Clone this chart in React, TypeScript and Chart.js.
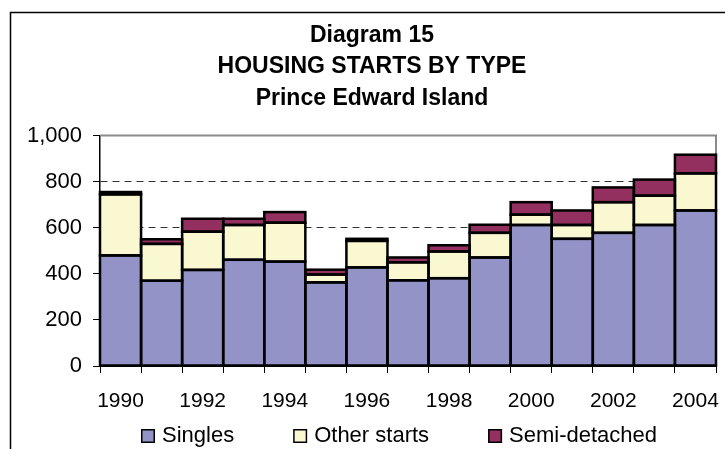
import React, { useEffect, useRef } from "react";
import { Chart, registerables } from "chart.js";

Chart.register(...registerables);

const years = ["1990","1991","1992","1993","1994","1995","1996","1997","1998","1999","2000","2001","2002","2003","2004"];
const singles = [480, 370, 417, 461, 453, 363, 428, 372, 381, 471, 612, 552, 578, 612, 675];
const otherStarts = [265, 160, 166, 151, 169, 34, 115, 78, 116, 107, 45, 60, 133, 127, 161];
const semiDetached = [10, 20, 56, 27, 46, 21, 9, 21, 27, 35, 54, 63, 64, 70, 81];
const titleLines = ["Diagram 15", "HOUSING STARTS BY TYPE", "Prince Edward Island"];
const seriesNames = ["Singles", "Other starts", "Semi-detached"];
const seriesColors = ["#9393C7", "#FAF8D0", "#933060"];

const FONT = "'Liberation Sans', Arial, sans-serif";

const framePlugin = {
  id: "frame",
  beforeDraw(chart: any) {
    const { ctx, width, height } = chart;
    ctx.save();
    ctx.fillStyle = "#fff";
    ctx.fillRect(0, 0, width, height);
    ctx.strokeStyle = "#000";
    ctx.lineWidth = 1.5;
    ctx.beginPath();
    ctx.moveTo(10.5, height + 2);
    ctx.lineTo(10.5, 12.5);
    ctx.lineTo(width + 2, 12.5);
    ctx.stroke();
    ctx.restore();
  },
  beforeDatasetsDraw(chart: any) {
    const { ctx, chartArea: a } = chart;
    ctx.save();
    ctx.strokeStyle = "#8a8a8a";
    ctx.lineWidth = 2;
    ctx.beginPath();
    ctx.moveTo(a.left, a.top);
    ctx.lineTo(a.right, a.top);
    ctx.lineTo(a.right, a.bottom);
    ctx.stroke();
    ctx.restore();
  },
  afterDatasetsDraw(chart: any) {
    const { ctx } = chart;
    ctx.save();
    ctx.strokeStyle = "#000";
    ctx.lineWidth = 2.5;
    ctx.lineJoin = "miter";
    chart.data.datasets.forEach((_ds: any, di: number) => {
      const meta = chart.getDatasetMeta(di);
      meta.data.forEach((el: any) => {
        const p = el.getProps(["x", "y", "base", "width"], true);
        const top = Math.min(p.y, p.base);
        const h = Math.abs(p.base - p.y);
        ctx.strokeRect(p.x - p.width / 2, top, p.width, h);
      });
    });
    ctx.restore();
  },
};

const legendPlugin = {
  id: "customLegend",
  afterDraw(chart: any) {
    const { ctx } = chart;
    ctx.save();
    ctx.font = `22px ${FONT}`;
    ctx.textBaseline = "alphabetic";
    ctx.textAlign = "left";
    const box = 14;
    const gapText = 7;
    const gapItem = 59;
    let x = 141;
    const boxTop = 429;
    const baseline = 441.5;
    chart.data.datasets.forEach((ds: any) => {
      ctx.fillStyle = ds.backgroundColor;
      ctx.fillRect(x, boxTop, box, box);
      ctx.strokeStyle = "#000";
      ctx.lineWidth = 1.5;
      ctx.strokeRect(x + 0.75, boxTop + 0.75, box - 1.5, box - 1.5);
      ctx.fillStyle = "#000";
      const tx = x + box + gapText;
      ctx.fillText(ds.label, tx, baseline);
      x = tx + ctx.measureText(ds.label).width + gapItem;
    });
    ctx.restore();
  },
};

export default function App() {
  const ref = useRef<HTMLCanvasElement>(null);
  useEffect(() => {
    if (!ref.current) return;
    const seriesData = [singles, otherStarts, semiDetached];
    const chart = new Chart(ref.current, {
      type: "bar",
      data: {
        labels: years,
        datasets: seriesNames.map((name, i) => ({
          label: name,
          data: seriesData[i],
          backgroundColor: seriesColors[i],
          borderColor: "#000",
          borderWidth: 0,
          inflateAmount: 0,
          barPercentage: 1,
          categoryPercentage: 1,
        })),
      },
      options: {
        responsive: false,
        animation: false,
        layout: { padding: { left: 28, right: 9, top: 0, bottom: 40 } },
        plugins: {
          legend: { display: false },
          tooltip: { enabled: false },
          title: {
            display: true,
            text: titleLines,
            color: "#000",
            font: { family: FONT, size: 23, weight: "bold", lineHeight: 1.378 },
            padding: { top: 19.5, bottom: 21 },
          },
        },
        scales: {
          x: {
            stacked: true,
            offset: true,
            afterFit: (axis: any) => {
              axis.height = 43;
              axis.paddingLeft = 0;
              axis.paddingRight = 0;
            },
            grid: {
              offset: true,
              drawOnChartArea: false,
              drawTicks: true,
              tickLength: 7,
              tickColor: "#000",
              tickWidth: 1,
            },
            border: { display: true, color: "#000", width: 2 },
            ticks: {
              autoSkip: false,
              maxRotation: 0,
              minRotation: 0,
              padding: 16,
              color: "#000",
              font: { family: FONT, size: 21 },
              callback: function (this: any, _v: any, index: number) {
                return index % 2 === 0 ? years[index] : "";
              },
            },
          },
          y: {
            stacked: true,
            min: 0,
            max: 1000,
            afterFit: (axis: any) => { axis.width = 72; },
            grid: {
              drawTicks: true,
              tickLength: 7,
              tickColor: "#000",
              tickWidth: 1,
              lineWidth: 1,
              color: (c: any) => {
                const v = c.tick ? c.tick.value : -1;
                return v === 0 || v === 1000 ? "rgba(0,0,0,0)" : "#333";
              },
            },
            border: { display: true, color: "#000", width: 1.5, dash: [7, 5] },
            ticks: {
              stepSize: 200,
              padding: 11,
              color: "#000",
              font: { family: FONT, size: 22 },
            },
          },
        },
      },
      plugins: [framePlugin, legendPlugin],
    });
    return () => chart.destroy();
  }, []);

  return (
    <div style={{ position: "absolute", left: 0, top: 0, width: 725, height: 449, overflow: "hidden" }}>
      <canvas ref={ref} width={725} height={449} style={{ display: "block", width: 725, height: 449 }} />
    </div>
  );
}
